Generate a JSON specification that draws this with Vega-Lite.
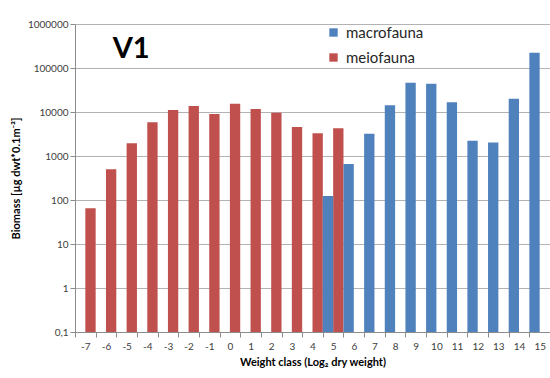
{
  "$schema": "https://vega.github.io/schema/vega-lite/v6.json",
  "autosize": {"type": "none"},
  "width": 475,
  "height": 308,
  "padding": {"left": 75, "top": 24, "right": 0, "bottom": 46},
  "background": "white",
  "config": {
    "font": "Lato",
    "view": {"stroke": null},
    "axis": {
      "labelFont": "Lato",
      "titleFont": "Lato",
      "labelColor": "#404040",
      "titleColor": "#000000",
      "domainColor": "#8c8c8c",
      "tickColor": "#8c8c8c",
      "gridColor": "#b3b3b3",
      "labelFontSize": 10,
      "titleFontSize": 11,
      "titleFontWeight": "bold"
    }
  },
  "data": {
    "values": [
      {"class": -7, "group": "meiofauna", "biomass": 65},
      {"class": -6, "group": "meiofauna", "biomass": 500},
      {"class": -5, "group": "meiofauna", "biomass": 1940},
      {"class": -4, "group": "meiofauna", "biomass": 5850},
      {"class": -3, "group": "meiofauna", "biomass": 11100},
      {"class": -2, "group": "meiofauna", "biomass": 13700},
      {"class": -1, "group": "meiofauna", "biomass": 9000},
      {"class": 0, "group": "meiofauna", "biomass": 15400},
      {"class": 1, "group": "meiofauna", "biomass": 11700},
      {"class": 2, "group": "meiofauna", "biomass": 9600},
      {"class": 3, "group": "meiofauna", "biomass": 4570},
      {"class": 4, "group": "meiofauna", "biomass": 3270},
      {"class": 5, "group": "meiofauna", "biomass": 4250},
      {"class": 5, "group": "macrofauna", "biomass": 123},
      {"class": 6, "group": "macrofauna", "biomass": 655},
      {"class": 7, "group": "macrofauna", "biomass": 3200},
      {"class": 8, "group": "macrofauna", "biomass": 14200},
      {"class": 9, "group": "macrofauna", "biomass": 46500},
      {"class": 10, "group": "macrofauna", "biomass": 44000},
      {"class": 11, "group": "macrofauna", "biomass": 16700},
      {"class": 12, "group": "macrofauna", "biomass": 2230},
      {"class": 13, "group": "macrofauna", "biomass": 2040},
      {"class": 14, "group": "macrofauna", "biomass": 20000},
      {"class": 15, "group": "macrofauna", "biomass": 223000}
    ]
  },
  "layer": [
    {
      "mark": {"type": "bar"},
      "encoding": {
        "x": {
          "field": "class",
          "type": "ordinal",
          "scale": {"paddingInner": 0, "paddingOuter": 0},
          "axis": {
            "title": "Weight class (Log₂ dry weight)",
            "labelAngle": 0,
            "tickBand": "extent",
            "tickSize": 5,
            "labelPadding": 4,
            "titlePadding": 5,
            "grid": false
          }
        },
        "xOffset": {
          "field": "group",
          "type": "nominal",
          "scale": {"domain": ["macrofauna", "meiofauna"], "paddingInner": 0, "paddingOuter": 0}
        },
        "y": {
          "field": "biomass",
          "type": "quantitative",
          "stack": null,
          "scale": {"type": "log", "domain": [0.1, 1000000], "nice": false},
          "axis": {
            "title": "Biomass [µg dwt*0.1m⁻²]",
            "values": [0.1, 1, 10, 100, 1000, 10000, 100000, 1000000],
            "labelExpr": "replace(format(datum.value, '~f'), '.', ',')",
            "tickSize": 5,
            "labelPadding": 2,
            "titlePadding": 6,
            "grid": true
          }
        },
        "color": {
          "field": "group",
          "type": "nominal",
          "scale": {"domain": ["macrofauna", "meiofauna"], "range": ["#4F81BD", "#C0504D"]},
          "legend": {
            "title": null,
            "orient": "none",
            "legendX": 251,
            "legendY": 1,
            "symbolType": "square",
            "symbolSize": 70,
            "symbolStrokeWidth": 0,
            "labelFontSize": 15,
            "labelFont": "Lato",
            "labelColor": "#262626",
            "rowPadding": 9,
            "labelOffset": 5
          }
        }
      }
    },
    {
      "data": {"values": [{"label": "V1"}]},
      "mark": {"type": "text", "fontSize": 29, "fontWeight": "bold", "font": "Lato", "align": "left", "baseline": "alphabetic", "dx": -14, "color": "#000000"},
      "encoding": {
        "x": {"datum": -5, "type": "ordinal"},
        "y": {"datum": 170000, "type": "quantitative"},
        "text": {"field": "label"}
      }
    }
  ]
}
